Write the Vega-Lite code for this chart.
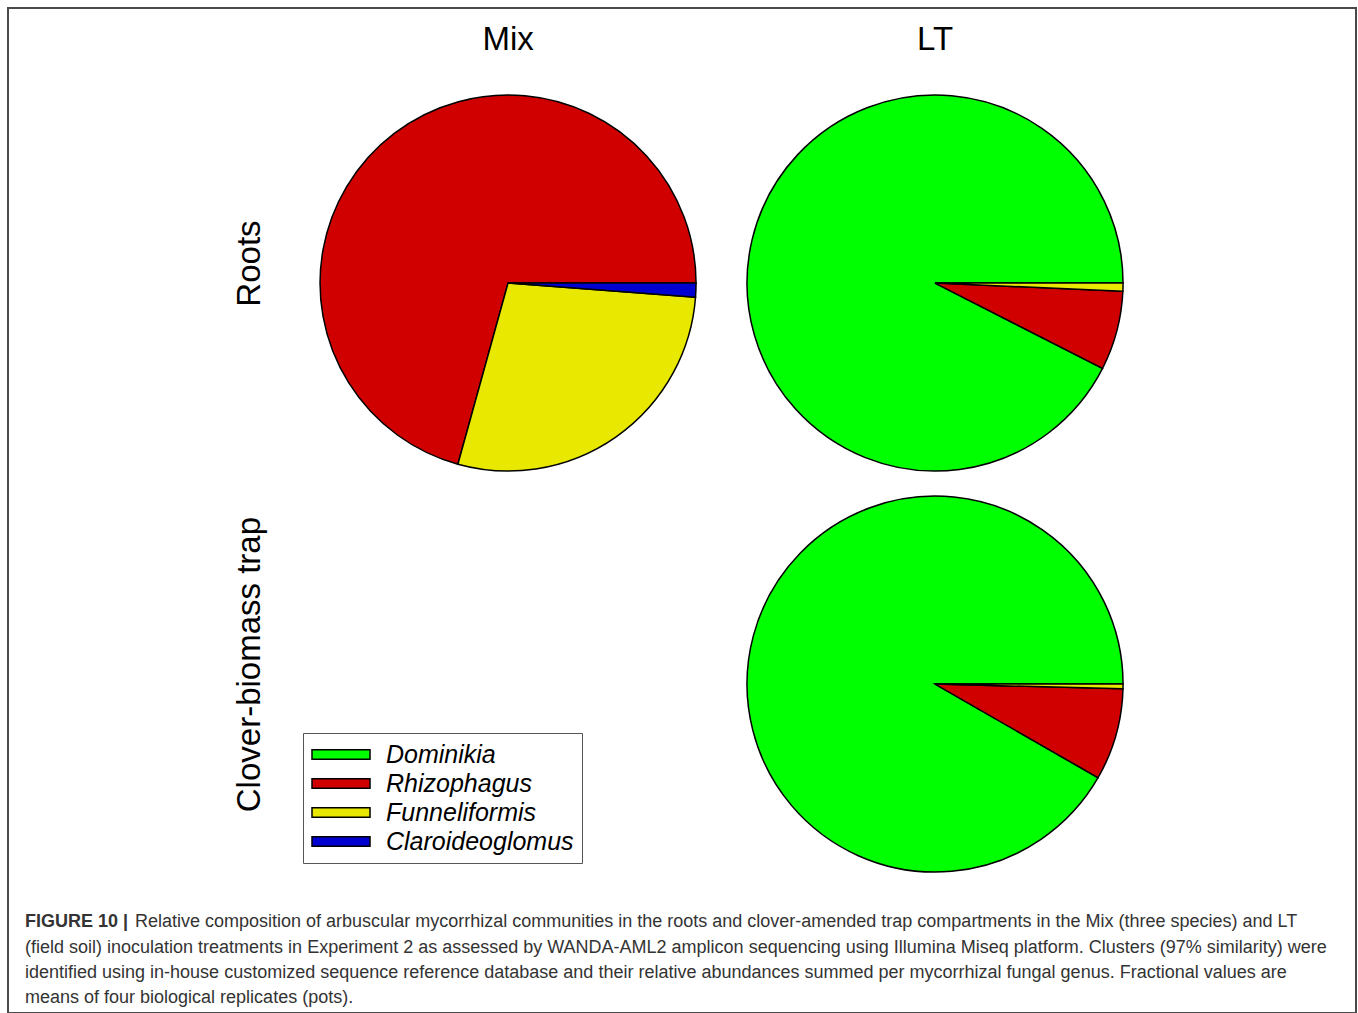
{
  "$schema": "https://vega.github.io/schema/vega-lite/v6.json",
  "width": 1348,
  "height": 1005,
  "autosize": {"type": "none"},
  "padding": {"left": 8, "top": 8, "right": 2, "bottom": 0},
  "background": "white",
  "config": {"view": {"stroke": "#4a4a4a", "strokeWidth": 2}, "font": "Liberation Sans"},
  "resolve": {"scale": {"y": "independent"}},
  "layer": [
    {
      "data": {
        "values": [
          {"treatment": "Mix", "compartment": "Roots", "genus": "Rhizophagus", "value": 0.707},
          {"treatment": "Mix", "compartment": "Roots", "genus": "Funneliformis", "value": 0.281},
          {"treatment": "Mix", "compartment": "Roots", "genus": "Claroideoglomus", "value": 0.012},
          {"treatment": "LT", "compartment": "Roots", "genus": "Dominikia", "value": 0.925},
          {"treatment": "LT", "compartment": "Roots", "genus": "Rhizophagus", "value": 0.068},
          {"treatment": "LT", "compartment": "Roots", "genus": "Funneliformis", "value": 0.007},
          {"treatment": "LT", "compartment": "Clover-biomass trap", "genus": "Dominikia", "value": 0.917},
          {"treatment": "LT", "compartment": "Clover-biomass trap", "genus": "Rhizophagus", "value": 0.079},
          {"treatment": "LT", "compartment": "Clover-biomass trap", "genus": "Funneliformis", "value": 0.004}
        ]
      },
      "transform": [
        {"stack": "value", "groupby": ["treatment", "compartment"], "offset": "normalize", "as": ["v0", "v1"]}
      ],
      "mark": {"type": "arc", "outerRadius": 188, "stroke": "black", "strokeWidth": 1.5},
      "encoding": {
        "x": {
          "field": "treatment", "type": "nominal",
          "scale": {"type": "band", "domain": ["Mix", "LT"], "paddingInner": 0.5, "paddingOuter": 0.8285, "align": 0.5559},
          "axis": {"orient": "top", "offset": -41, "domain": false, "ticks": false, "tickSize": 0, "labelPadding": 0, "labelFontSize": 33, "labelColor": "black", "labelBaseline": "alphabetic", "labelAngle": 0, "title": null, "grid": false}
        },
        "y": {
          "field": "compartment", "type": "nominal",
          "scale": {"type": "point", "domain": ["Roots", "Clover-biomass trap"], "padding": 0.753, "align": 0.4554},
          "axis": {"orient": "left", "offset": -251, "domain": false, "ticks": false, "tickSize": 0, "labelPadding": 0, "labelFontSize": 33, "labelColor": "black", "labelAngle": 270, "labelAlign": "center", "labelBaseline": "alphabetic", "labelOffset": -20, "labelLimit": 500, "title": null, "grid": false}
        },
        "theta": {"field": "v0", "type": "quantitative", "stack": null, "scale": {"domain": [0, 1], "range": [1.5707963, -4.712389]}},
        "theta2": {"field": "v1"},
        "color": {
          "field": "genus", "type": "nominal",
          "scale": {"domain": ["Dominikia", "Rhizophagus", "Funneliformis", "Claroideoglomus"], "range": ["#00ff00", "#d00000", "#e8e800", "#0000d0"]},
          "legend": {"title": null, "orient": "none", "legendX": 295, "legendY": 725, "direction": "vertical", "symbolType": "M-1,-0.372L3.64,-0.372L3.64,0.372L-1,0.372Z", "symbolSize": 625, "symbolStrokeColor": "black", "symbolStrokeWidth": 1.5, "symbolOpacity": 1, "labelFont": "Liberation Sans", "labelFontSize": 25, "labelFontStyle": "italic", "labelColor": "black", "labelOffset": 48, "rowPadding": 2, "padding": 8, "strokeColor": "#555555", "fillColor": "white", "labelLimit": 400}
        }
      }
    },
    {
      "data": {
        "values": [
          {"line": 1, "part": "head", "text": "FIGURE 10 |"},
          {"line": 1, "part": "rest", "text": "Relative composition of arbuscular mycorrhizal communities in the roots and clover-amended trap compartments in the Mix (three species) and LT"},
          {"line": 2, "part": "body", "text": "(field soil) inoculation treatments in Experiment 2 as assessed by WANDA-AML2 amplicon sequencing using Illumina Miseq platform. Clusters (97% similarity) were"},
          {"line": 3, "part": "body", "text": "identified using in-house customized sequence reference database and their relative abundances summed per mycorrhizal fungal genus. Fractional values are"},
          {"line": 4, "part": "body", "text": "means of four biological replicates (pots)."}
        ]
      },
      "encoding": {
        "y": {"field": "line", "type": "quantitative", "scale": {"domain": [-35.53, 4.4], "reverse": true, "nice": false, "zero": false}, "axis": null},
        "x": {"value": 17},
        "text": {"field": "text"}
      },
      "layer": [
        {"transform": [{"filter": "datum.part === 'head'"}], "mark": {"type": "text", "align": "left", "baseline": "alphabetic", "fontSize": 18, "fontWeight": "bold", "color": "#333333", "font": "Liberation Sans"}},
        {"transform": [{"filter": "datum.part === 'rest'"}], "mark": {"type": "text", "align": "left", "baseline": "alphabetic", "dx": 110, "fontSize": 18, "color": "#333333", "font": "Liberation Sans"}},
        {"transform": [{"filter": "datum.part === 'body'"}], "mark": {"type": "text", "align": "left", "baseline": "alphabetic", "fontSize": 18, "color": "#333333", "font": "Liberation Sans"}}
      ]
    }
  ]
}
